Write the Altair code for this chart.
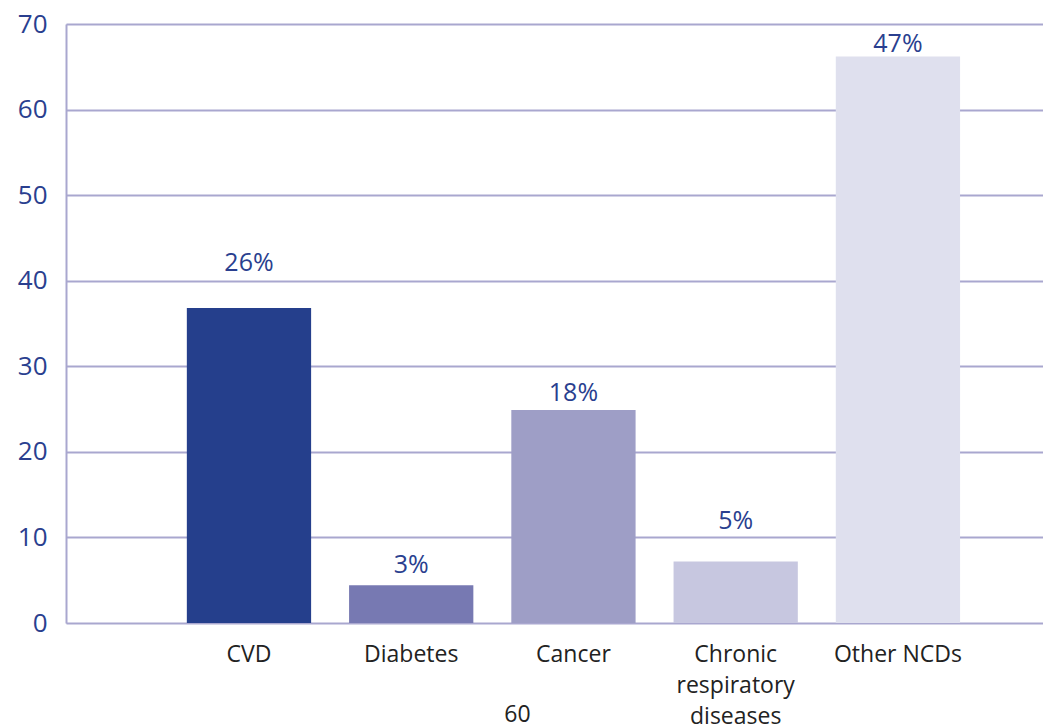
import altair as alt
import pandas as pd

categories = ["CVD", "Diabetes", "Cancer", "Chronic respiratory diseases", "Other NCDs"]
values = [36.8, 4.4, 24.9, 7.2, 66.2]
shares = ["26%", "3%", "18%", "5%", "47%"]
label_at = [41.1, 5.8, 25.9, 11.0, 66.7]
colors = ["#253f8c", "#7779b2", "#9e9ec6", "#c7c7e0", "#dfe0ee"]
y_ticks = [0, 10, 20, 30, 40, 50, 60, 70]
page_number = "60"

df = pd.DataFrame({"cat": categories, "value": values, "share": shares,
                   "label_at": label_at, "color": colors})

FONT = "Open Sans"
BLUE = "#2a3f8f"
GRID = "#a9a7cf"

x = alt.X("cat:N", sort=categories, title=None,
          scale=alt.Scale(paddingInner=0.234, paddingOuter=0.628, align=0.593),
          axis=alt.Axis(labelAngle=0, labelFont=FONT, labelFontSize=23, labelColor="#222222",
                        labelExpr="split(datum.label, ' ')[0] == 'Chronic' ? ['Chronic', 'respiratory', 'diseases'] : datum.label",
                        labelLineHeight=31, labelPadding=20, ticks=False, domain=False, grid=False,
                        labelLimit=300))

bars = alt.Chart(df).mark_bar().encode(
    x=x,
    y=alt.Y("value:Q", title=None,
            scale=alt.Scale(domain=[0, 70], nice=False),
            axis=alt.Axis(values=y_ticks, labelFont=FONT, labelFontSize=26, labelColor=BLUE,
                          labelPadding=19, ticks=False, domain=True, domainColor=GRID,
                          domainWidth=2, gridColor=GRID, gridWidth=2, gridOpacity=1)),
    color=alt.Color("color:N", scale=None),
)

labels = alt.Chart(df).mark_text(font=FONT, fontSize=25, color=BLUE, baseline="alphabetic").encode(
    x=alt.X("cat:N", sort=categories),
    y=alt.Y("label_at:Q"),
    text="share:N",
)

chart = alt.layer(bars, labels).properties(
    width=977, height=599,
    autosize=alt.AutoSizeParams(type="none"),
    padding={"left": 66, "top": 24, "right": 0, "bottom": 103},
    title=alt.TitleParams(page_number, orient="bottom", font=FONT, fontSize=23,
                          fontWeight="normal", color="#222222", anchor="middle",
                          dx=-37, offset=-24),
).configure_view(stroke=None).configure(background="white")

chart.save("out.html", embed_options={"renderer": "svg", "actions": False})
